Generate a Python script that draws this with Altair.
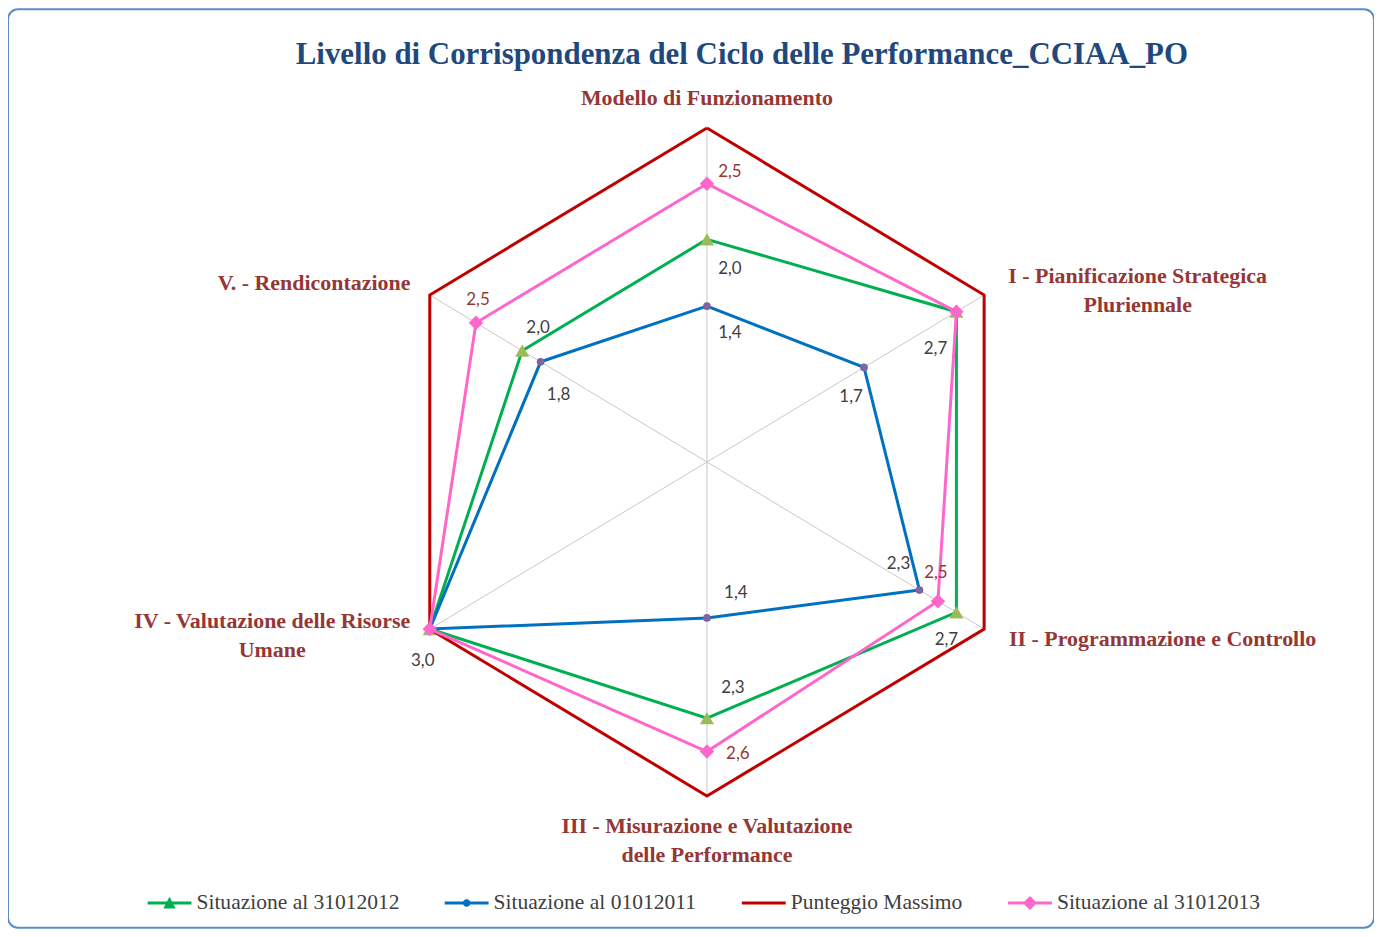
import altair as alt
import pandas as pd

# ---------------- data ----------------
CATEGORIES = [
    "Modello di Funzionamento",
    "I - Pianificazione Strategica Pluriennale",
    "II - Programmazione e Controllo",
    "III - Misurazione e Valutazione delle Performance",
    "IV - Valutazione delle Risorse Umane",
    "V. - Rendicontazione",
]
CATEGORY_TEXT = [
    "Modello di Funzionamento",
    "I - Pianificazione Strategica\nPluriennale",
    "II - Programmazione e Controllo",
    "III - Misurazione e Valutazione\ndelle Performance",
    "IV - Valutazione delle Risorse\nUmane",
    "V. - Rendicontazione",
]
SERIES = [
    "Situazione al 31012012",
    "Situazione al 01012011",
    "Punteggio Massimo",
    "Situazione al 31012013",
]
VAL_2012 = [2.0, 2.7, 2.7, 2.3, 3.0, 2.0]
VAL_2011 = [1.4, 1.7, 2.3, 1.4, 3.0, 1.8]
VAL_MAX = [3.0, 3.0, 3.0, 3.0, 3.0, 3.0]
VAL_2013 = [2.5, 2.7, 2.5, 2.6, 3.0, 2.5]
VALUES = [VAL_2012, VAL_2011, VAL_MAX, VAL_2013]

# ---------------- styling / layout ----------------
LINE_COLORS = ["#00B050", "#0070C0", "#C00000", "#FF66CC"]
MARKERS = [("triangle-up", "#9BBB59", 200), ("circle", "#8064A2", 60), None, ("diamond", "#FF66CC", 210)]
LABEL_COLORS = ["#404040", "#404040", None, "#953735"]
# pixel offsets of data labels from their point (None = no label)
LABEL_OFFSETS = [
    [(23, 30), (-21, 37), (-10, 28), (26, -30), None, (16, -23)],
    [(23, 27), (-13, 30), (-21, -26), (29, -25), (-7, 32), (18, 33)],
    [None] * 6,
    [(23, -12), None, (-2, -28), (31, 3), None, (2, -23)],
]
# offsets of the category labels (first line) from the outer vertex
CAT_OFFSETS = [(0, -30), (154, -19), (179, 10), (0, 30), (-158, -8), (-116, -12)]

W, H = 1370, 921
CX, CY = 701, 454
PX_X, PX_Y = 107.0, 111.67
xscale = alt.Scale(domain=[-CX / PX_X, (W - CX) / PX_X], nice=False, zero=False)
yscale = alt.Scale(domain=[-(H - CY) / PX_Y, CY / PX_Y], nice=False, zero=False)

rows = []
for si, (s, vals) in enumerate(zip(SERIES, VALUES)):
    for k in range(7):
        i = k % 6
        off = LABEL_OFFSETS[si][i] if k < 6 else None
        rows.append({
            "series": s, "cat": CATEGORIES[i], "i": i, "order": k, "v": vals[i],
            "has_label": off is not None,
            "ldx": off[0] if off else 0, "ldy": off[1] if off else 0,
        })
df = pd.DataFrame(rows)

spoke_rows = []
for i, c in enumerate(CATEGORIES):
    for r in (0.0, max(VAL_MAX)):
        spoke_rows.append({"cat": c, "i": i, "v": r})
spokes_df = pd.DataFrame(spoke_rows)

cat_df = pd.DataFrame({
    "cat": CATEGORIES,
    "text": CATEGORY_TEXT,
    "i": list(range(6)),
    "v": [max(VAL_MAX)] * 6,
    "ldx": [o[0] for o in CAT_OFFSETS],
    "ldy": [o[1] for o in CAT_OFFSETS],
})

polar = dict(
    x="datum.v * sin(datum.i * PI / 3)",
    y="datum.v * cos(datum.i * PI / 3)",
)
X = alt.X("x:Q", scale=xscale, axis=None)
Y = alt.Y("y:Q", scale=yscale, axis=None)
LX = alt.X("lx:Q", scale=xscale, axis=None)
LY = alt.Y("ly:Q", scale=yscale, axis=None)

layers = []

# spokes
layers.append(
    alt.Chart(spokes_df).transform_calculate(**polar)
    .mark_line(color="#C8C8C8", strokeWidth=1)
    .encode(x=X, y=Y, detail="cat:N", order="v:Q")
)

for si, s in enumerate(SERIES):
    base = alt.Chart(df).transform_filter(alt.datum.series == s).transform_calculate(**polar)
    layers.append(
        base.mark_line(color=LINE_COLORS[si], strokeWidth=3)
        .encode(x=X, y=Y, order="order:Q")
    )
    if MARKERS[si]:
        shp, fc, sz = MARKERS[si]
        layers.append(
            base.transform_filter(alt.datum.order < 6)
            .mark_point(shape=shp, filled=True, fill=fc, size=sz, opacity=1, strokeWidth=0)
            .encode(x=X, y=Y)
        )

# data labels
for si, s in enumerate(SERIES):
    if LABEL_COLORS[si] is None:
        continue
    layers.append(
        alt.Chart(df)
        .transform_filter((alt.datum.series == s) & (alt.datum.order < 6) & alt.datum.has_label)
        .transform_calculate(**polar)
        .transform_calculate(
            lx=f"datum.x + datum.ldx / {PX_X}",
            ly=f"datum.y - datum.ldy / {PX_Y}",
            lab="replace(format(datum.v, '.1f'), '.', ',')",
        )
        .mark_text(font="Lato", fontSize=17, color=LABEL_COLORS[si], align="center", baseline="middle")
        .encode(x=LX, y=LY, text="lab:N")
    )

# category labels
layers.append(
    alt.Chart(cat_df).transform_calculate(**polar)
    .transform_calculate(
        lx=f"datum.x + datum.ldx / {PX_X}",
        ly=f"datum.y - datum.ldy / {PX_Y}",
    )
    .mark_text(font="Liberation Serif", fontSize=22, fontWeight="bold", color="#953735",
               align="center", baseline="middle", lineBreak="\n", lineHeight=29)
    .encode(x=LX, y=LY, text="text:N")
)

# legend-only layer
T = 0.07
LINE_PATH = f"M-1,-{T}L1,-{T}L1,{T}L-1,{T}Z"
PATHS = [
    LINE_PATH + " M-0.28,0.25L0,-0.28L0.28,0.25Z",
    LINE_PATH + " M0.17,0A0.17,0.17 0 1,1 -0.17,0A0.17,0.17 0 1,1 0.17,0Z",
    LINE_PATH,
    LINE_PATH + " M0,-0.32L0.32,0L0,0.32L-0.32,0Z",
]
leg = alt.Legend(
    title=None, orient="none", legendX=140, legendY=874, direction="horizontal",
    columns=4, symbolSize=1936, symbolStrokeWidth=0, labelFont="Liberation Serif",
    labelFontSize=21.6, labelColor="#404040", labelOffset=5, columnPadding=45, padding=0,
    labelLimit=0,
)
layers.append(
    alt.Chart(df).transform_filter("false").transform_calculate(**polar)
    .mark_point(filled=True, opacity=1)
    .encode(
        x=X, y=Y,
        color=alt.Color("series:N", scale=alt.Scale(domain=SERIES, range=LINE_COLORS), legend=leg),
        shape=alt.Shape("series:N", scale=alt.Scale(domain=SERIES, range=PATHS), legend=leg),
    )
)

chart = alt.layer(*layers).properties(
    width=W, height=H,
    autosize=alt.AutoSizeParams(type="none"),
    padding=0,
    background="white",
    title=alt.TitleParams(
        "Livello di Corrispondenza del Ciclo delle Performance_CCIAA_PO",
        font="Liberation Serif", fontSize=31, fontWeight="bold", color="#1F497D",
        anchor="middle", frame="group", orient="top", offset=-86, baseline="alphabetic", dx=51,
    ),
).configure_view(
    stroke="#5B8BC9", strokeWidth=2, cornerRadius=10, fill="white"
)

chart.save("out.html", embed_options={"renderer": "svg", "actions": False})
